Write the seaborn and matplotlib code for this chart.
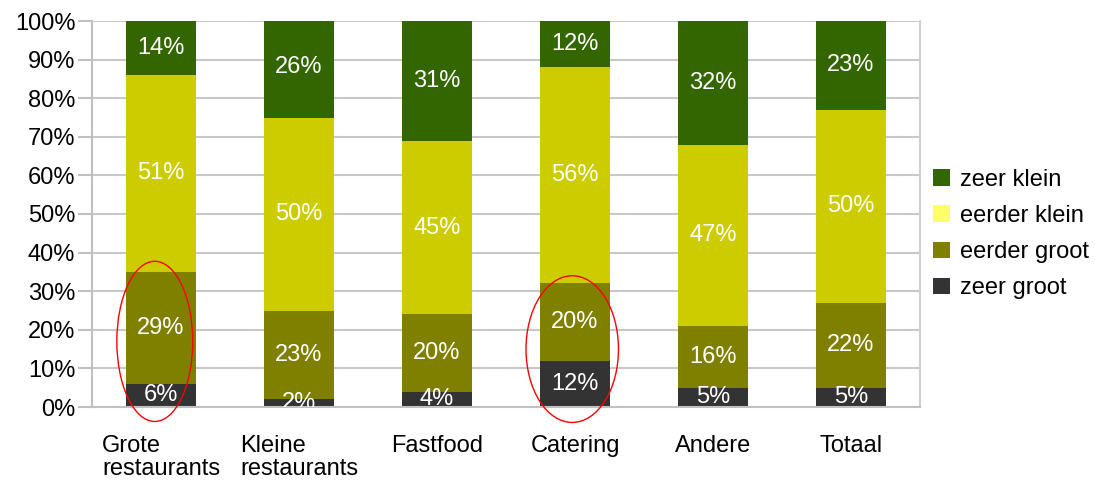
import numpy as np
import pandas as pd
import seaborn as sns
import matplotlib
matplotlib.use("Agg")
import matplotlib.pyplot as plt
from matplotlib.patches import Ellipse, Patch

# Categories and share per size class (percent)
categories = ["Grote\nrestaurants", "Kleine\nrestaurants", "Fastfood", "Catering", "Andere", "Totaal"]
zeer_groot = [6, 2, 4, 12, 5, 5]
eerder_groot = [29, 23, 20, 20, 16, 22]
eerder_klein = [51, 50, 45, 56, 47, 50]
zeer_klein = [14, 26, 31, 12, 32, 23]

series_names = ["zeer groot", "eerder groot", "eerder klein", "zeer klein"]
bar_colors = ["#333333", "#808000", "#cccc00", "#336600"]
legend_colors = ["#333333", "#808000", "#ffff66", "#336600"]

sns.set_theme(style="white")
plt.rcParams["font.family"] = ["Liberation Sans", "DejaVu Sans"]
plt.rcParams["text.color"] = "black"
plt.rcParams["xtick.labelcolor"] = "black"
plt.rcParams["ytick.labelcolor"] = "black"

FS = 17

fig = plt.figure(figsize=(10.95, 4.84), dpi=100)
ax = fig.add_axes([92 / 1095, 1 - 407 / 484, (920 - 92) / 1095, (407 - 21) / 484])

layers = np.array([zeer_groot, eerder_groot, eerder_klein, zeer_klein], dtype=float)
tops = np.cumsum(layers, axis=0)
bottoms = tops - layers

# Stacked bars: draw cumulative totals from the top layer down
for i in range(len(series_names) - 1, -1, -1):
    df = pd.DataFrame({"cat": categories, "val": tops[i]})
    sns.barplot(data=df, x="cat", y="val", color=bar_colors[i], saturation=1,
                width=0.51, ax=ax, zorder=2, linewidth=0)

# Value labels in the middle of each segment
for i in range(len(series_names)):
    for j in range(len(categories)):
        mid = (bottoms[i, j] + tops[i, j]) / 2
        ax.text(j, mid, f"{int(layers[i, j])}%", ha="center", va="center",
                color="white", fontsize=FS, zorder=4, clip_on=True)

ax.set_ylim(0, 100)
ax.set_xlim(-0.5, len(categories) - 0.5)
ax.set_yticks(np.arange(0, 101, 10))
ax.set_yticklabels([f"{v}%" for v in range(0, 101, 10)], fontsize=FS)
ax.set_xticks(range(len(categories)))
ax.set_xticklabels(categories, fontsize=FS, multialignment="left", linespacing=1.1)
ax.tick_params(axis="x", length=0, pad=20)
ax.set_xticks(np.arange(-0.5, len(categories), 1), minor=True)
ax.tick_params(axis="x", which="minor", length=11, color="#c0c0c0", width=1.5, direction="out")
ax.tick_params(axis="y", length=10, color="#c0c0c0", width=1.5, direction="out", pad=2, left=True)
ax.set_xlabel("")
ax.set_ylabel("")

ax.yaxis.grid(True, color="#c8c8c8", linewidth=1.5, zorder=0)
ax.set_axisbelow(True)
for side in ["top", "right"]:
    ax.spines[side].set_visible(False)
for side in ["left", "bottom"]:
    ax.spines[side].set_color("#c0c0c0")
    ax.spines[side].set_linewidth(1.5)
ax.axvline(len(categories) - 0.5, color="#d0d0d0", linewidth=1.5, zorder=1, clip_on=False)

# Highlight rings around the two bottom segments
rings = [(0 - 0.045, 17, 0.55, 41.5), (3 - 0.02, 15, 0.67, 38)]
for cx, cy, w, h in rings:
    ax.add_patch(Ellipse((cx, cy), w, h, fill=False, edgecolor="#ff0000",
                         linewidth=1.0, zorder=5, clip_on=False))

handles = [Patch(facecolor=legend_colors[i], edgecolor="none") for i in range(3, -1, -1)]
labels = [series_names[i] for i in range(3, -1, -1)]
fig.legend(handles, labels, loc="center left", bbox_to_anchor=(912 / 1095, 1 - 234 / 484),
           frameon=False, fontsize=FS, handlelength=0.7, handleheight=0.7,
           handletextpad=0.45, labelspacing=0.6)

fig.savefig("out.png", dpi=100)
